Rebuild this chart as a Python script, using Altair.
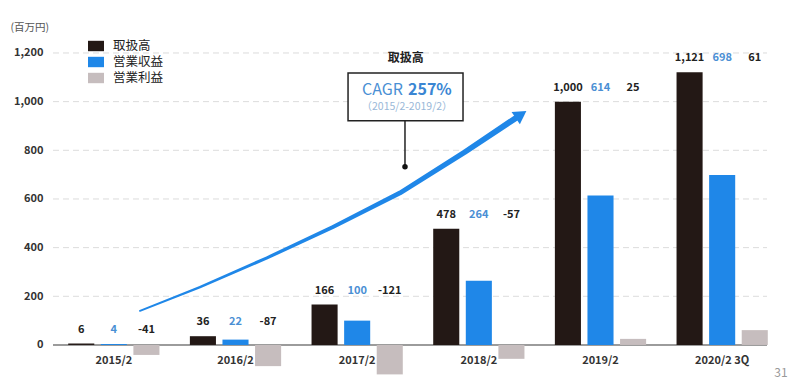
import altair as alt
import pandas as pd

# ---- data ----
categories = ["2015/2", "2016/2", "2017/2", "2018/2", "2019/2", "2020/2 3Q"]
series = ["取扱高", "営業収益", "営業利益"]
handling = [6, 36, 166, 478, 1000, 1121]      # 取扱高
revenue = [4, 22, 100, 264, 614, 698]         # 営業収益
profit = [-41, -87, -121, -57, 25, 61]        # 営業利益
y_ticks = [0, 200, 400, 600, 800, 1000, 1200]
grid_ticks = [200, 400, 600, 800, 1000, 1200]

# CAGR arrow (x in category-index units)
arrow_f = [0.215, 0.708, 1.259, 1.801, 2.352, 2.886, 3.305]
arrow_v = [140, 238, 358, 485, 625, 793, 933]
head_f, head_v = 3.347, 947

# annotation box
box_f = [1.925, 2.870]
box_v = [921, 1118]
conn_f = 2.393
dot_v = 732

rows = []
for i, c in enumerate(categories):
    for s, vals in zip(series, [handling, revenue, profit]):
        rows.append({"cat": c, "series": s, "value": vals[i], "label_y": handling[i],
                     "label": f"{vals[i]:,}"})
df = pd.DataFrame(rows)
cat_df = pd.DataFrame({"cat": categories})
arrow_df = pd.DataFrame({"f": arrow_f, "v": arrow_v})
grid_df = pd.DataFrame({"y": grid_ticks})

FONT = "Noto Sans CJK JP"
BLACK = "#231815"
BLUE = "#1f87e8"
GRAY = "#c6bdbe"
W, H = 730, 337

yscale = alt.Scale(domain=[-144, 1241], nice=False, zero=False)
yaxis = alt.Axis(values=y_ticks, labelExpr="format(datum.value, ',')", grid=False, domain=False,
                 ticks=False, labelPadding=10, labelFont=FONT, labelFontSize=11,
                 labelFontWeight="bold", labelColor="#333", title="(百万円)", titleAngle=0,
                 titleAlign="left", titleX=-43, titleY=-16, titleBaseline="middle", titleFont=FONT,
                 titleFontSize=10.5, titleFontWeight="normal", titleColor="#555")
band = alt.Scale(domain=categories, paddingInner=0.25, paddingOuter=0.125)
qx = alt.Scale(domain=[-0.5, 5.5], nice=False, zero=False)


def XB():
    return alt.X("cat:N", scale=band, sort=categories, axis=None)


def XQ(field):
    return alt.X(field, scale=qx, axis=None)


def Y(field):
    return alt.Y(field, scale=yscale, axis=yaxis)


xoff = alt.XOffset("series:N", sort=series,
                   scale=alt.Scale(domain=series, paddingInner=0.2, paddingOuter=0))

grid = alt.Chart(grid_df).mark_rule(color="#dcdcdc", strokeDash=[6, 4], strokeWidth=1).encode(
    y=Y("y:Q"), x=alt.value(0), x2=alt.value(714))

zero_line = alt.Chart(cat_df).mark_rule(color="#9a9a9a", strokeWidth=1).encode(
    y=alt.datum(0), x=alt.value(0), x2=alt.value(714))

axis_line = alt.Chart(cat_df).mark_rule(color="#9a9a9a", strokeWidth=1).encode(
    x=alt.value(0), y=alt.value(0), y2=alt.datum(0))

bars = alt.Chart(df).mark_bar().encode(
    x=XB(), xOffset=xoff,
    y=Y("value:Q"),
    color=alt.Color("series:N", sort=series,
                    scale=alt.Scale(domain=series, range=[BLACK, BLUE, GRAY]),
                    legend=alt.Legend(title=None, orient="none", legendX=35, legendY=-5,
                                      symbolType="M-1,-0.65H1V0.65H-1Z", symbolSize=256,
                                      symbolStrokeWidth=0, labelFont=FONT, labelFontSize=12.5,
                                      labelColor="#222", labelOffset=9, rowPadding=1, padding=0)),
)

labels = alt.Chart(df).mark_text(dy=-14, font=FONT, fontSize=11, fontWeight="bold",
                                 baseline="middle").encode(
    x=XB(), xOffset=xoff,
    y=Y("label_y:Q"),
    text="label:N",
    color=alt.Color("series:N", sort=series,
                    scale=alt.Scale(domain=series, range=["#222222", "#4a8fd4", "#222222"]),
                    legend=None),
)

xlabels = alt.Chart(cat_df).mark_text(dy=16, font=FONT, fontSize=11, fontWeight="bold", color="#333",
                                      baseline="middle").encode(
    x=XB(), y=alt.datum(0), text="cat:N")

arrow = alt.Chart(arrow_df).mark_trail(color=BLUE).encode(
    x=XQ("f:Q"), y=Y("v:Q"),
    order="f:Q",
    size=alt.Size("f:Q", scale=alt.Scale(range=[1.5, 6]), legend=None))

head = alt.Chart(pd.DataFrame({"f": [head_f], "v": [head_v]})).mark_point(
    shape="triangle-up", filled=True, color=BLUE, opacity=1, angle=56, size=220).encode(
    x=XQ("f:Q"), y=Y("v:Q"))

conn = alt.Chart(pd.DataFrame({"f": [conn_f], "v": [box_v[0]], "v2": [dot_v]})).mark_rule(
    color="#222", strokeWidth=1.5).encode(
    x=XQ("f:Q"), y=Y("v:Q"), y2="v2:Q")

dot = alt.Chart(pd.DataFrame({"f": [conn_f], "v": [dot_v]})).mark_circle(
    color="#111", size=30, opacity=1).encode(
    x=XQ("f:Q"), y=Y("v:Q"))

box = alt.Chart(pd.DataFrame({"f": [box_f[0]], "f2": [box_f[1]],
                              "v": [box_v[0]], "v2": [box_v[1]]})).mark_rect(
    fill="white", stroke="#222", strokeWidth=1.5).encode(
    x=XQ("f:Q"), x2="f2:Q", y=Y("v:Q"), y2="v2:Q")

ann = pd.DataFrame({
    "f": [2.377, 2.418, 2.41, 2.40],
    "v": [1046, 1046, 980, 1180],
    "t": ["CAGR", "257%", "（2015/2-2019/2）", "取扱高"],
})
t_cagr = alt.Chart(ann.iloc[[0]]).mark_text(font=FONT, fontSize=16, color="#4a8fd4", align="right",
                                            baseline="middle").encode(
    x=XQ("f:Q"), y=Y("v:Q"), text="t:N")
t_pct = alt.Chart(ann.iloc[[1]]).mark_text(font=FONT, fontSize=16, fontWeight="bold", color="#3a86d3",
                                           align="left", baseline="middle").encode(
    x=XQ("f:Q"), y=Y("v:Q"), text="t:N")
t_sub = alt.Chart(ann.iloc[[2]]).mark_text(font=FONT, fontSize=10.5, color="#9ab8d8", align="center",
                                           baseline="middle").encode(
    x=XQ("f:Q"), y=Y("v:Q"), text="t:N")
t_title = alt.Chart(ann.iloc[[3]]).mark_text(font=FONT, fontSize=12, fontWeight="bold", color="#222",
                                             align="center", baseline="middle").encode(
    x=XQ("f:Q"), y=Y("v:Q"), text="t:N")

page = alt.Chart(pd.DataFrame({"t": ["31"]})).mark_text(font=FONT, fontSize=12, color="#999",
                                                       align="center", baseline="middle").encode(
    x=alt.value(728), y=alt.value(330), text="t:N")

chart = alt.layer(
    grid, zero_line, axis_line, bars, labels, xlabels, arrow, head, conn, dot, box,
    t_cagr, t_pct, t_sub, t_title, page
).resolve_scale(x="independent", color="independent", size="independent").properties(
    width=W, height=H,
    autosize=alt.AutoSizeParams(type="none"),
    padding={"left": 45, "top": 35, "right": 9, "bottom": 0},
).configure(background="white", view=alt.ViewConfig(stroke=None))

chart.save("out.html", embed_options={"renderer": "svg", "actions": False})
